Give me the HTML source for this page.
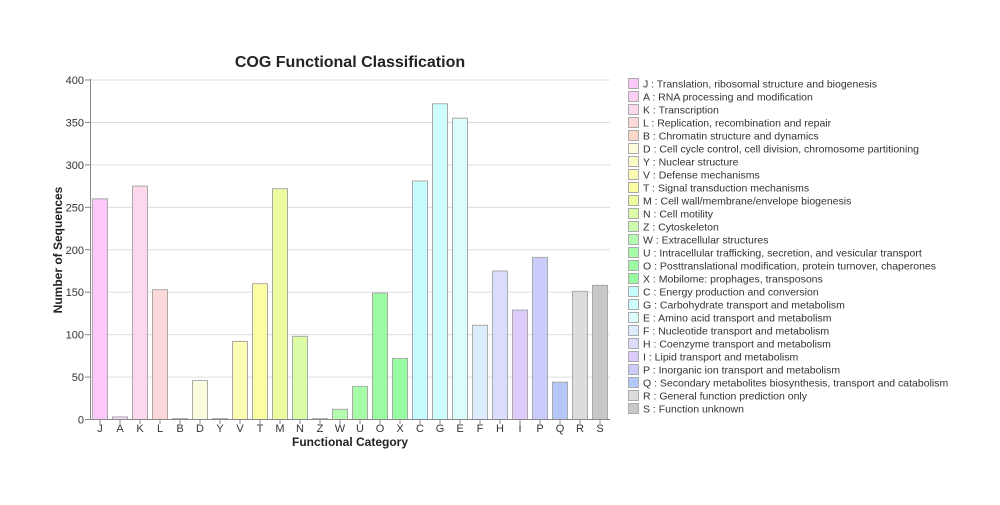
<!DOCTYPE html>
<html><head><meta charset="utf-8"><style>
body{margin:0;background:#fff;}
svg text{font-family:"Liberation Sans",sans-serif;}
</style></head><body>
<svg width="1000" height="500" xmlns="http://www.w3.org/2000/svg">
<rect width="1000" height="500" fill="#fff"/>
<text x="350" y="67" text-anchor="middle" font-size="16" font-weight="bold" fill="#222">COG Functional Classification</text>
<g id="grid" stroke="#ddd" stroke-width="1"></g>
<g id="bars"></g>
<line x1="90.5" y1="79" x2="90.5" y2="419.5" stroke="#888"/>
<line x1="90" y1="419.5" x2="610" y2="419.5" stroke="#888"/>
<g id="yt" font-size="11" fill="#333" text-anchor="end"></g>
<g id="xt" font-size="11" fill="#333" text-anchor="middle"></g>
<text x="350" y="446" text-anchor="middle" font-size="12" font-weight="bold" fill="#222">Functional Category</text>
<text transform="translate(62,250) rotate(-90)" text-anchor="middle" font-size="12" font-weight="bold" fill="#222">Number of Sequences</text>
<g id="leg" font-size="10.5" fill="#333"></g>
</svg>
<script>
var d=[["J",260,"#fcc8f8","Translation, ribosomal structure and biogenesis"],["A",3,"#fcd0f4","RNA processing and modification"],["K",275,"#fcd8ec","Transcription"],["L",153,"#fcd8d8","Replication, recombination and repair"],["B",1,"#fcd8c8","Chromatin structure and dynamics"],["D",46,"#fcfcdc","Cell cycle control, cell division, chromosome partitioning"],["Y",1,"#fcfcc8","Nuclear structure"],["V",92,"#fcfcb4","Defense mechanisms"],["T",160,"#fcfca4","Signal transduction mechanisms"],["M",272,"#ecfca0","Cell wall/membrane/envelope biogenesis"],["N",98,"#dcfca8","Cell motility"],["Z",1,"#ccfcb0","Cytoskeleton"],["W",12,"#b4fcb0","Extracellular structures"],["U",39,"#a8fca8","Intracellular trafficking, secretion, and vesicular transport"],["O",149,"#9cfca4","Posttranslational modification, protein turnover, chaperones"],["X",72,"#98fca0","Mobilome: prophages, transposons"],["C",281,"#c8fcfc","Energy production and conversion"],["G",372,"#ccfcfc","Carbohydrate transport and metabolism"],["E",355,"#dcfcfc","Amino acid transport and metabolism"],["F",111,"#dcecfc","Nucleotide transport and metabolism"],["H",175,"#dcdcfc","Coenzyme transport and metabolism"],["I",129,"#dcccfc","Lipid transport and metabolism"],["P",191,"#ccccfc","Inorganic ion transport and metabolism"],["Q",44,"#b4c8fc","Secondary metabolites biosynthesis, transport and catabolism"],["R",151,"#dcdcdc","General function prediction only"],["S",158,"#c8c8c8","Function unknown"]];
var NS="http://www.w3.org/2000/svg";
function el(p,t,a,tx){var e=document.createElementNS(NS,t);for(var k in a)e.setAttribute(k,a[k]);if(tx!=null)e.textContent=tx;document.getElementById(p).appendChild(e);}
var y0=419.5,s=339.5/400;
for(var v=0;v<=400;v+=50){var y=y0-v*s;if(v>0)el("grid","line",{x1:90,x2:610,y1:y,y2:y});el("yt","line",{x1:85,x2:90,y1:y,y2:y,stroke:"#888"});el("yt","text",{x:84,y:y+4},v);}
d.forEach(function(c,i){var cx=100+i*20,h=c[1]*s;el("bars","rect",{x:cx-7.5,y:y0-h,width:15,height:h,fill:c[2],stroke:"#aaa","stroke-width":1});el("xt","line",{x1:cx,x2:cx,y1:419.5,y2:424,stroke:"#888"});el("xt","text",{x:cx,y:432},c[0]);
var ly=84+i*13;el("leg","rect",{x:628.5,y:ly-5.5,width:10,height:10,fill:c[2],stroke:"#aaa"});el("leg","text",{x:643,y:ly+3.5},c[0]+" : "+c[3]);});
</script>
</body></html>
